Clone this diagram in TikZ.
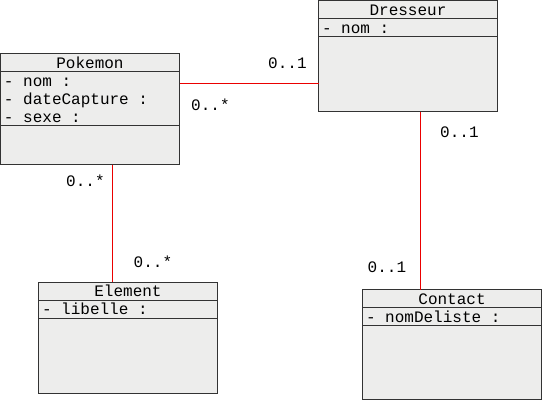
\documentclass[tikz,border=0pt]{standalone}
\usepackage{fontspec}
\setmonofont{Liberation Mono}
\usetikzlibrary{positioning}
\definecolor{boxfill}{RGB}{237,237,236}
\definecolor{boxdraw}{RGB}{51,51,51}
\definecolor{assocred}{RGB}{235,0,0}
\newcommand{\rowstrut}{\rule[-3.5pt]{0pt}{18pt}}
\newcommand{\ws}{\hspace*{9.6pt}}
\newcommand{\umlfont}{\ttfamily\fontsize{16}{18}\selectfont}
\begin{document}
\begin{tikzpicture}[x=1pt,y=-1pt,
  every node/.style={font=\umlfont},
  cls/.style={draw=boxdraw,fill=boxfill,line width=1pt,outer sep=0pt,minimum width=179pt,inner sep=0pt},
  clsname/.style={cls,text height=14.5pt,text depth=3.5pt},
  clsattr/.style={cls,inner xsep=3.5pt,text width=172pt,align=left},
  clsops/.style={cls},
  assoc/.style={draw=assocred,line width=1pt},
  mult/.style={anchor=base west,inner sep=0pt}]
\useasboundingbox (0,0) rectangle (543,400);
\node[clsname,anchor=north west] (pokemon) at (0.5,53.5) {Pokemon};
\node[clsattr,below=0pt of pokemon] (pokemon-attr) {\rowstrut-\ws nom\ws:\\\rowstrut-\ws dateCapture\ws:\\\rowstrut-\ws sexe\ws:};
\node[clsops,minimum height=39pt,below=0pt of pokemon-attr] (pokemon-ops) {};
\node[clsname,anchor=north west] (dresseur) at (318.5,0.5) {Dresseur};
\node[clsattr,below=0pt of dresseur] (dresseur-attr) {\rowstrut-\ws nom\ws:};
\node[clsops,minimum height=75pt,below=0pt of dresseur-attr] (dresseur-ops) {};
\node[clsname,anchor=north west] (element) at (38.5,282) {Element};
\node[clsattr,below=0pt of element] (element-attr) {\rowstrut-\ws libelle\ws:};
\node[clsops,minimum height=75pt,below=0pt of element-attr] (element-ops) {};
\node[clsname,anchor=north west] (contact) at (362.5,289.5) {Contact};
\node[clsattr,below=0pt of contact] (contact-attr) {\rowstrut-\ws nomDeliste\ws:};
\node[clsops,minimum height=74pt,below=0pt of contact-attr] (contact-ops) {};
% associations
\path[assoc] ([yshift=15pt]pokemon-attr.east) -- ([yshift=-9.5pt]dresseur-ops.west);
\path[assoc] ([xshift=22.3pt]pokemon-ops.south) -- ([xshift=-15.7pt]element.north);
\path[assoc] ([xshift=12.3pt]dresseur-ops.south) -- ([xshift=-31.7pt]contact.north);
% multiplicities
\node[mult] (m-dresseur) at (268,68.3) {0..1};
\node[mult] (m-pokemon) at (191,110) {0..*};
\node[mult] (m-pokemon2) at (66,186.7) {0..*};
\node[mult] (m-element) at (133.5,267) {0..*};
\node[mult] (m-dresseur2) at (440,137) {0..1};
\node[mult] (m-contact) at (367.5,272.3) {0..1};
\end{tikzpicture}
\end{document}
